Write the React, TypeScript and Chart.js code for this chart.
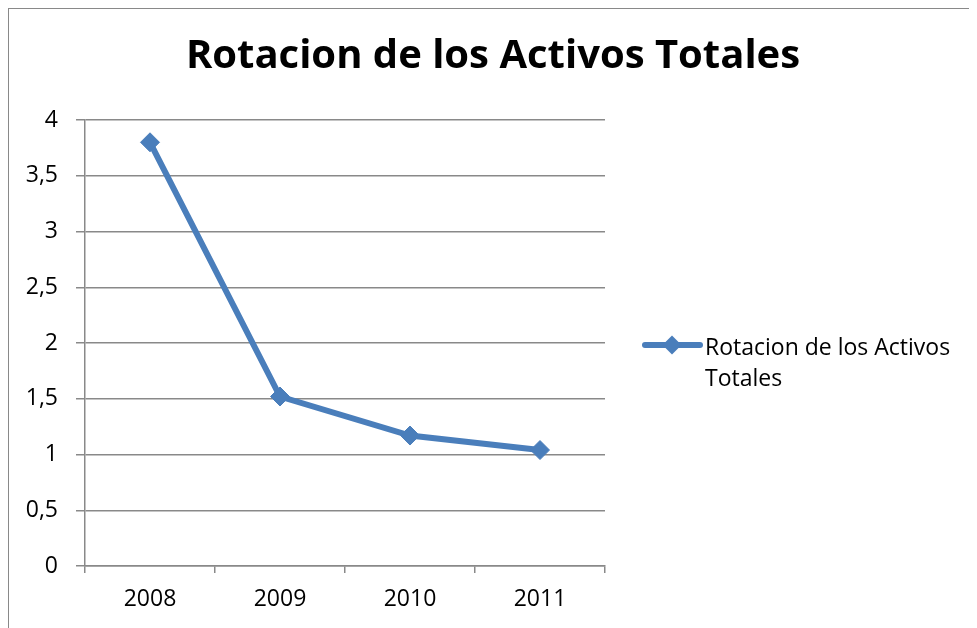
import React, { useEffect, useRef } from 'react';
import { Chart, registerables } from 'chart.js';

Chart.register(...registerables);

const titleText = 'Rotacion de los Activos Totales';
const categories = ['2008', '2009', '2010', '2011'];
const seriesName = 'Rotacion de los Activos Totales';
const seriesValues = [3.8, 1.52, 1.17, 1.04];
const yMin = 0;
const yMax = 4;
const yStep = 0.5;

const FONT = '"Open Sans"';
const SERIES_COLOR = '#4A7EBB';
const GRID_COLOR = '#898989';

const sideLegend = {
  id: 'sideLegend',
  afterDraw(chart: any) {
    const { ctx, chartArea } = chart;
    const ds = chart.data.datasets[0];
    const x0 = chartArea.right + 40;
    const y = (chartArea.top + chartArea.bottom) / 2 + 2;
    ctx.save();
    ctx.strokeStyle = SERIES_COLOR;
    ctx.lineWidth = 6;
    ctx.lineCap = 'round';
    ctx.beginPath();
    ctx.moveTo(x0, y);
    ctx.lineTo(x0 + 55, y);
    ctx.stroke();
    const cx = x0 + 27;
    const r = 9.5;
    ctx.fillStyle = SERIES_COLOR;
    ctx.beginPath();
    ctx.moveTo(cx, y - r);
    ctx.lineTo(cx + r, y);
    ctx.lineTo(cx, y + r);
    ctx.lineTo(cx - r, y);
    ctx.closePath();
    ctx.fill();
    ctx.font = `23px ${FONT}`;
    ctx.fillStyle = '#000';
    ctx.textBaseline = 'alphabetic';
    ctx.textAlign = 'left';
    const tx = x0 + 60;
    const maxW = chart.width - tx - 2;
    const words = String(ds.label).split(' ');
    const lines: string[] = [];
    let cur = '';
    for (const w of words) {
      const test = cur ? cur + ' ' + w : w;
      if (ctx.measureText(test).width > maxW && cur) {
        lines.push(cur);
        cur = w;
      } else {
        cur = test;
      }
    }
    if (cur) lines.push(cur);
    lines.forEach((l, i) => ctx.fillText(l, tx, y + 10 + i * 31));
    ctx.restore();
  },
};

export default function App() {
  const ref = useRef<HTMLCanvasElement | null>(null);

  useEffect(() => {
    if (!ref.current) return;
    const chart = new Chart(ref.current, {
      type: 'line',
      data: {
        labels: categories,
        datasets: [
          {
            label: seriesName,
            data: seriesValues,
            borderColor: SERIES_COLOR,
            backgroundColor: SERIES_COLOR,
            borderWidth: 6,
            tension: 0,
            pointStyle: 'rectRot',
            pointRadius: 9.5,
            pointHoverRadius: 9.5,
            pointBorderWidth: 1,
            pointBackgroundColor: SERIES_COLOR,
            pointBorderColor: SERIES_COLOR,
            clip: false as any,
          },
        ],
      },
      options: {
        animation: false,
        responsive: false,
        maintainAspectRatio: false,
        layout: { padding: 0 },
        plugins: {
          legend: { display: false },
          tooltip: { enabled: false },
          title: {
            display: true,
            text: titleText,
            color: '#000',
            font: { family: FONT, size: 40, weight: 'bold', lineHeight: 1.2 },
            padding: { top: 24, bottom: 39 },
          },
        },
        scales: {
          x: {
            type: 'category',
            offset: true,
            afterFit: (s: any) => {
              s.height = 62;
            },
            grid: {
              offset: true,
              drawOnChartArea: false,
              drawTicks: true,
              tickLength: 7,
              color: GRID_COLOR,
              lineWidth: 1.5,
            },
            border: { display: true, color: GRID_COLOR, width: 1.5 },
            ticks: {
              color: '#000',
              padding: 13,
              font: { family: FONT, size: 23 },
              maxRotation: 0,
            },
          },
          y: {
            min: yMin,
            max: yMax,
            afterFit: (s: any) => {
              s.width = 76;
            },
            grid: {
              color: GRID_COLOR,
              lineWidth: 1.5,
              tickLength: 9,
            },
            border: { display: true, color: GRID_COLOR, width: 1.5 },
            ticks: {
              stepSize: yStep,
              color: '#000',
              padding: 18,
              font: { family: FONT, size: 23 },
              callback: (v: any) => String(v).replace('.', ','),
            },
          },
          yRight: {
            position: 'right',
            min: yMin,
            max: yMax,
            afterFit: (s: any) => {
              s.width = 372;
            },
            grid: { display: false, drawOnChartArea: false },
            border: { display: false },
            ticks: { display: false },
          },
        },
      },
      plugins: [sideLegend],
    });
    return () => chart.destroy();
  }, []);

  return (
    <div
      style={{
        width: 969,
        height: 620,
        boxSizing: 'border-box',
        borderTop: `1px solid ${GRID_COLOR}`,
        borderLeft: `1px solid ${GRID_COLOR}`,
        overflow: 'hidden',
      }}
    >
      <canvas ref={ref} width={968} height={619} style={{ display: 'block' }} />
    </div>
  );
}
